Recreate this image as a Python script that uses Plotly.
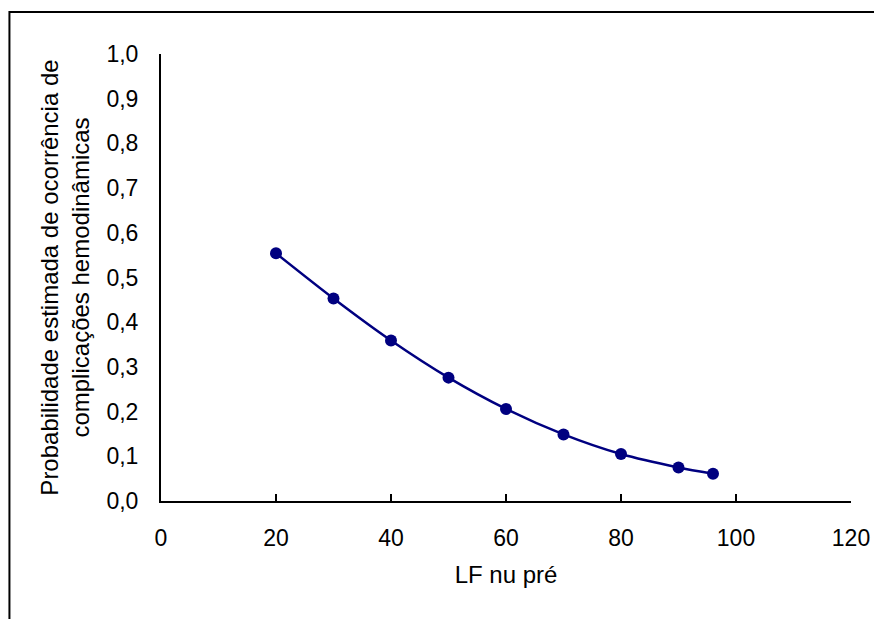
import plotly.graph_objects as go

lf_pre = [20, 30, 40, 50, 60, 70, 80, 90, 96]
prob = [0.554, 0.453, 0.359, 0.276, 0.206, 0.149, 0.105, 0.075, 0.061]
x_ticks = [0, 20, 40, 60, 80, 100, 120]
y_ticks = [0.0, 0.1, 0.2, 0.3, 0.4, 0.5, 0.6, 0.7, 0.8, 0.9, 1.0]

FONT = "Liberation Sans, Arial, sans-serif"
fig = go.Figure()
fig.add_trace(go.Scatter(
    x=lf_pre, y=prob, mode="lines+markers",
    line=dict(color="#000080", width=2.5, shape="spline", smoothing=0.8),
    marker=dict(color="#000080", size=12),
    showlegend=False,
))

OFF = 8  # page body margin
W, H = 882 - OFF, 619 - OFF
L, T = 153, 46
R, B = 29, 118
pw, ph = W - L - R, H - T - B

tick_font = dict(family=FONT, size=23, color="black")
title_font = dict(family=FONT, size=24, color="black")
fig.update_layout(
    width=W, height=H,
    margin=dict(l=L, r=R, t=T, b=B),
    paper_bgcolor="white", plot_bgcolor="white",
    separators=",.",
    font=dict(family=FONT, size=23, color="black"),
    xaxis=dict(
        range=[0, 120], tickvals=x_ticks, showgrid=False, zeroline=False,
        showline=True, linecolor="black", linewidth=2,
        ticks="inside", ticklen=7, tickwidth=2, tickcolor="black",
        ticklabelstandoff=15, tickfont=tick_font,
        title=dict(text="LF nu pré", standoff=17, font=title_font),
    ),
    yaxis=dict(
        range=[0, 1.0], tickvals=y_ticks, tickformat=".1f", showgrid=False,
        zeroline=False, showline=True, linecolor="black", linewidth=2,
        ticks="", ticklabelstandoff=16, tickfont=tick_font,
        title=dict(text="Probabilidade estimada de ocorrência de<br>complicações hemodinâmicas",
                   standoff=10, font=title_font),
    ),
    shapes=[dict(
        type="rect", xref="paper", yref="paper",
        x0=(1 - L) / pw, x1=(W + 20 - L) / pw,
        y0=-(H + 20 - (T + ph)) / ph, y1=1 + (T - (12 - OFF)) / ph,
        line=dict(color="black", width=2), fillcolor="rgba(0,0,0,0)", layer="below",
    )],
)
fig.write_html("out.html")
